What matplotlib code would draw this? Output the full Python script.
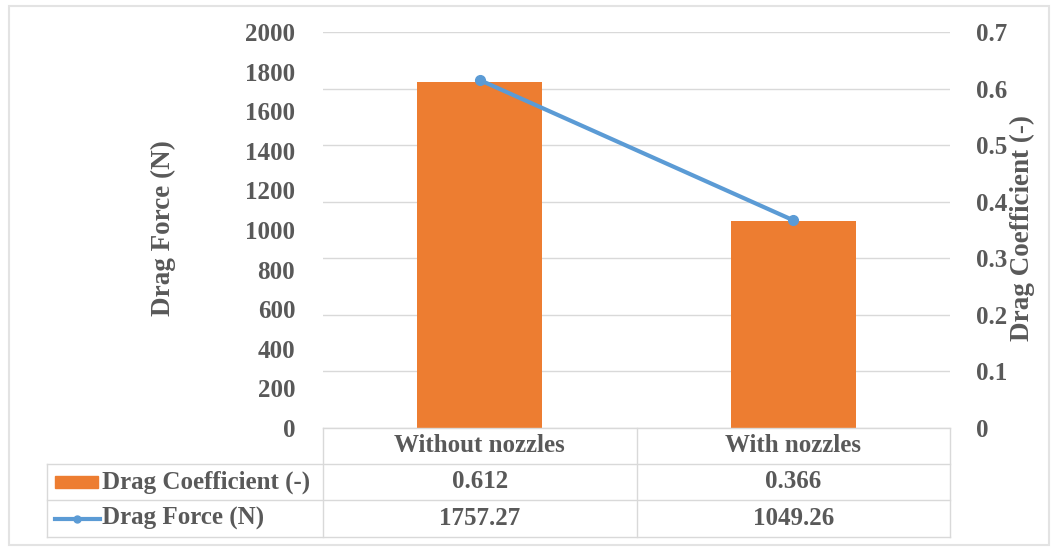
import matplotlib
matplotlib.use('Agg')
import matplotlib.pyplot as plt
from matplotlib.lines import Line2D
from matplotlib.patches import Rectangle
import matplotlib.transforms as mtransforms

### Data

categories = ['Without nozzles', 'With nozzles']
drag_coeff = [0.612, 0.366]
drag_force = [1757.27, 1049.26]
coeff_label = 'Drag Coefficient (-)'
force_label = 'Drag Force (N)'

### Style

W, H = 1057, 547
orange = '#ED7D31'
blue = '#5B9BD5'
grey_txt = '#595959'
grid_col = '#D9D9D9'
plt.rcParams['font.family'] = ['Liberation Serif', 'DejaVu Serif']
plt.rcParams['font.weight'] = 'bold'
fs = 18
fs_lab = 19.5


def px(x, y):
    # pixel (from top-left) -> figure fraction
    return x / W, 1 - y / H


fig = plt.figure(figsize=(W / 100, H / 100), dpi=100)

left, right, top, bottom = 323, 950, 32, 428
ax = fig.add_axes([left / W, 1 - bottom / H, (right - left) / W, (bottom - top) / H])
ax2 = ax.twinx()

x = list(range(len(categories)))

# bars: coefficient (right scale)
ax.bar(x, drag_coeff, width=0.40, color=orange, zorder=2)
ax.set_ylim(0, 0.7)
ax.set_yticks([i / 10 for i in range(8)])
ax.set_yticklabels(['0'] + ['%.1f' % (i / 10) for i in range(1, 8)])
ax.yaxis.tick_right()
ax.grid(axis='y', color=grid_col, lw=1, zorder=0)
ax.set_axisbelow(True)
ax.set_xlim(-0.5, len(categories) - 0.5)
ax.set_xticks([])

# line: force (left scale)
ax2.plot(x, drag_force, color=blue, lw=3, marker='o', ms=7, zorder=3)
ax2.set_ylim(0, 2000)
ax2.set_yticks(range(0, 2001, 200))
ax2.yaxis.tick_left()

for a in (ax, ax2):
    for s in a.spines.values():
        s.set_visible(False)
    a.tick_params(length=0, labelsize=fs, labelcolor=grey_txt)
ax.tick_params(axis='y', pad=19)
ax2.tick_params(axis='y', pad=20)

fig.text(*px(163, 228), force_label, rotation=90, ha='center', va='center',
         fontsize=fs_lab, color=grey_txt, fontweight='bold')
fig.text(*px(1022, 228), coeff_label, rotation=90, ha='center', va='center',
         fontsize=fs_lab, color=grey_txt, fontweight='bold')

### Data table

row_y = [428, 464, 500, 537]
tbl_left = 47
lc = dict(color=grid_col, lw=1)
# horizontal lines
fig.add_artist(Line2D([px(left, 0)[0], px(right, 0)[0]], [px(0, row_y[0])[1]] * 2, **lc))
for y in row_y[1:]:
    fig.add_artist(Line2D([px(tbl_left, 0)[0], px(right, 0)[0]], [px(0, y)[1]] * 2, **lc))
# vertical lines
bl = mtransforms.blended_transform_factory(ax.transData, fig.transFigure)
for xv in [-0.5, 0.5, len(categories) - 0.5]:
    fig.add_artist(Line2D([xv, xv], [px(0, row_y[0])[1], px(0, row_y[-1])[1]],
                          transform=bl, **lc))
fig.add_artist(Line2D([px(tbl_left, 0)[0]] * 2, [px(0, row_y[1])[1], px(0, row_y[-1])[1]], **lc))

mid = [(row_y[i] + row_y[i + 1]) / 2 for i in range(3)]
for i, c in enumerate(categories):
    fig.text(x[i], px(0, mid[0])[1], c, transform=bl, ha='center', va='center',
             fontsize=fs, color=grey_txt, fontweight='bold')
    fig.text(x[i], px(0, mid[1])[1], '%.3f' % drag_coeff[i], transform=bl, ha='center',
             va='center', fontsize=fs, color=grey_txt, fontweight='bold')
    fig.text(x[i], px(0, mid[2])[1], '%.2f' % drag_force[i], transform=bl, ha='center',
             va='center', fontsize=fs, color=grey_txt, fontweight='bold')

# legend keys in table
fig.add_artist(Rectangle(px(55, mid[1] + 6), 43 / W, 12 / H, color=orange))
fig.add_artist(Line2D([px(55, 0)[0], px(100, 0)[0]], [px(0, mid[2])[1]] * 2,
                      color=blue, lw=3))
fig.add_artist(Line2D([px(77, 0)[0]], [px(0, mid[2])[1]], color=blue, marker='o', ms=5))
fig.text(*px(102, mid[1]), coeff_label, ha='left', va='center', fontsize=fs,
         color=grey_txt, fontweight='bold')
fig.text(*px(102, mid[2]), force_label, ha='left', va='center', fontsize=fs,
         color=grey_txt, fontweight='bold')

# chart border
fig.add_artist(Rectangle(px(9, 545), 1040 / W, 539 / H, fill=False, ec='#E3E3E3', lw=1.5))

fig.savefig('out.png', dpi=100)
